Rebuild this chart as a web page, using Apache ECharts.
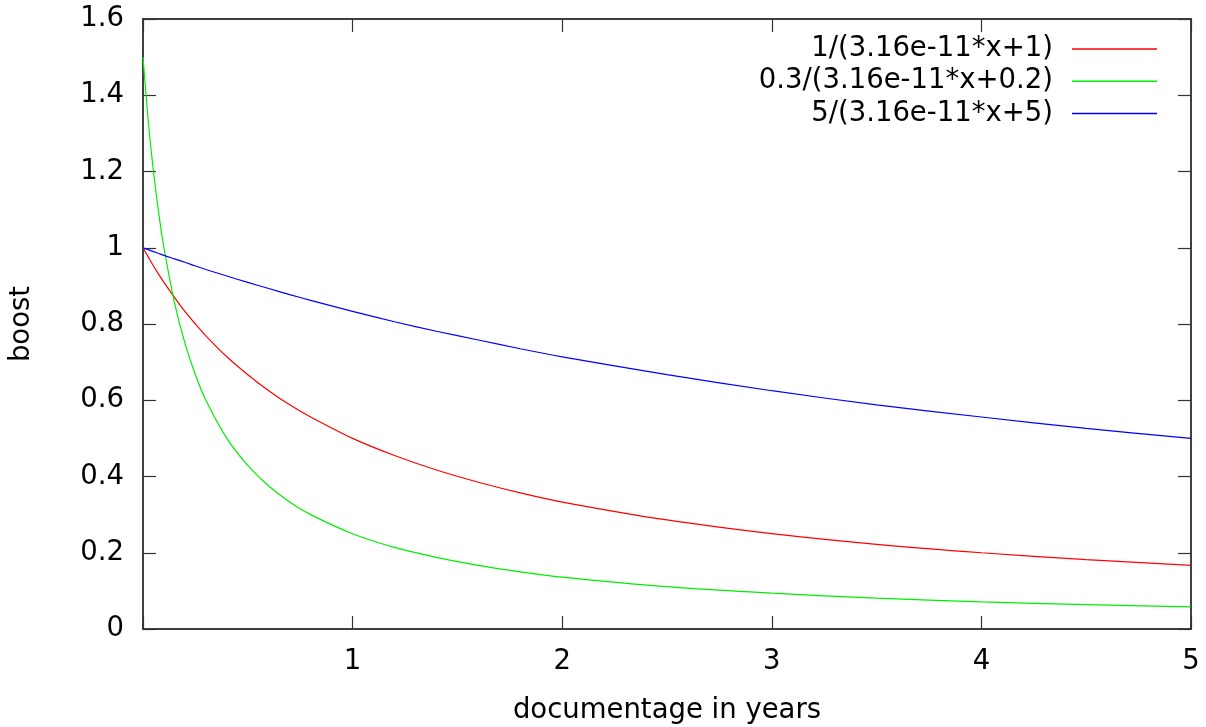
<!DOCTYPE html>
<html>
<head>
<meta charset="utf-8">
<script src="https://cdn.jsdelivr.net/npm/echarts@6/dist/echarts.min.js"></script>
<style>
  html, body { margin: 0; padding: 0; background: #fff; }
  #main { width: 1206px; height: 727px; }
</style>
</head>
<body>
<div id="main"></div>
<script>
// values (x in years)
var years = [0, 0.025, 0.05, 0.075, 0.1, 0.15, 0.2, 0.25, 0.3, 0.4, 0.5, 0.6, 0.7, 0.8,
             1, 1.2, 1.4, 1.6, 1.8, 2, 2.5, 3, 3.5, 4, 4.5, 5];
var redBoost = [1, 0.976, 0.952, 0.930, 0.909, 0.870, 0.833, 0.800, 0.769, 0.714, 0.667, 0.625, 0.588, 0.556,
                0.5, 0.455, 0.417, 0.385, 0.357, 0.333, 0.286, 0.25, 0.222, 0.2, 0.182, 0.167];
var greenBoost = [1.5, 1.333, 1.2, 1.091, 1.0, 0.857, 0.75, 0.667, 0.6, 0.5, 0.429, 0.375, 0.333, 0.3,
                  0.25, 0.214, 0.188, 0.167, 0.15, 0.136, 0.111, 0.094, 0.081, 0.071, 0.064, 0.058];
var blueBoost = [1, 0.995, 0.990, 0.985, 0.980, 0.971, 0.962, 0.952, 0.943, 0.926, 0.909, 0.893, 0.877, 0.862,
                 0.833, 0.806, 0.781, 0.758, 0.735, 0.714, 0.667, 0.625, 0.588, 0.556, 0.526, 0.5];
var seriesNames = ['1/(3.16e-11*x+1)', '0.3/(3.16e-11*x+0.2)', '5/(3.16e-11*x+5)'];
var seriesColors = ['#ff0000', '#00ee00', '#0000ff'];

function pairs(ys) {
    return years.map(function (x, i) { return [x, ys[i]]; });
}

var font = 'DejaVu Sans';
var fs = 27.5;

var myChart = echarts.init(document.getElementById('main'));

var tick = { show: true, inside: true, length: 13, lineStyle: { color: '#333', width: 1.2 } };
var line = { show: true, onZero: false, lineStyle: { color: '#000', width: 1.5 } };

option = {
    animation: false,
    grid: { left: 143, right: 15, top: 19, bottom: 98, outerBoundsMode: 'none', containLabel: false },
    legend: [0, 1, 2].map(function (i) {
        return {
            data: [seriesNames[i]],
            right: 44,
            top: 30 + i * 32.3,
            align: 'right',
            icon: 'rect',
            itemWidth: 85,
            itemHeight: 1.5,
            textStyle: { fontFamily: font, fontSize: fs, color: '#000', padding: [0, 14, 0, 0] }
        };
    }),
    xAxis: [{
        type: 'value',
        min: 0, max: 5, interval: 1,
        name: 'documentage in years',
        nameLocation: 'middle',
        nameGap: 68,
        nameTextStyle: { fontFamily: font, fontSize: fs, color: '#000' },
        axisLine: line,
        axisTick: tick,
        splitLine: { show: false },
        axisLabel: {
            fontFamily: font, fontSize: fs, color: '#000', margin: 19,
            formatter: function (v) { return v === 0 ? '' : v; }
        }
    }, {
        type: 'value', position: 'top',
        min: 0, max: 5, interval: 1,
        axisLine: line, axisTick: tick,
        splitLine: { show: false }, axisLabel: { show: false }
    }],
    yAxis: [{
        type: 'value',
        min: 0, max: 1.6, interval: 0.2,
        name: 'boost',
        nameLocation: 'middle',
        nameGap: 107,
        nameTextStyle: { fontFamily: font, fontSize: fs, color: '#000' },
        axisLine: line,
        axisTick: tick,
        splitLine: { show: false },
        axisLabel: {
            fontFamily: font, fontSize: fs, color: '#000', margin: 19,
            formatter: function (v) { return +v.toFixed(1); }
        }
    }, {
        type: 'value', position: 'right',
        min: 0, max: 1.6, interval: 0.2,
        axisLine: line, axisTick: tick,
        splitLine: { show: false }, axisLabel: { show: false }
    }],
    series: [redBoost, greenBoost, blueBoost].map(function (ys, i) {
        return {
            name: seriesNames[i],
            type: 'line',
            data: pairs(ys),
            smooth: 0.3,
            showSymbol: false,
            color: seriesColors[i],
            lineStyle: { width: 1.2, color: seriesColors[i] }
        };
    })
};

myChart.setOption(option);
</script>
</body>
</html>
